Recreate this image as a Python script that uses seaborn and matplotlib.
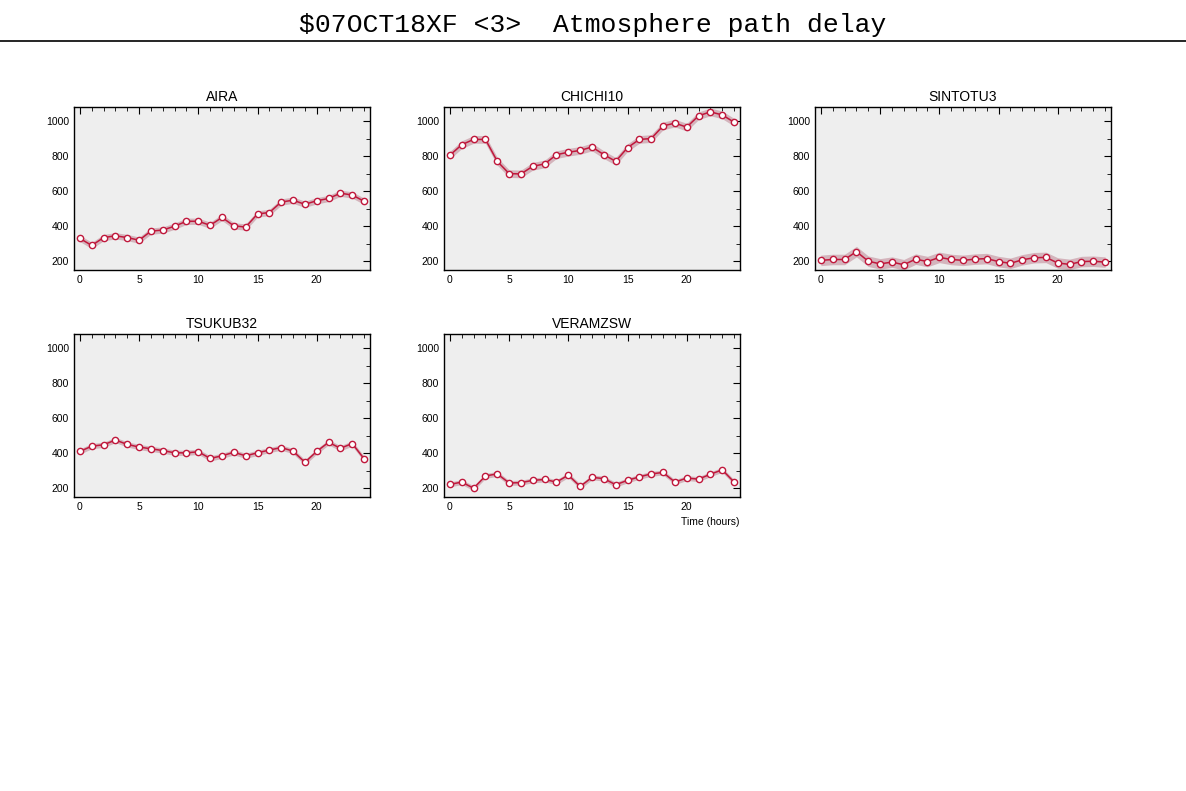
import matplotlib
matplotlib.use('Agg')
import matplotlib.pyplot as plt
import seaborn as sns
import numpy as np
import pandas as pd
from matplotlib.ticker import MultipleLocator

hours = list(range(25))
aira = [330, 290, 335, 345, 335, 320, 372, 378, 400, 428, 428, 405, 450, 402, 395,
        470, 478, 538, 548, 525, 545, 558, 588, 578, 542]
chichi10 = [805, 865, 895, 895, 770, 700, 698, 742, 755, 808, 822, 832, 852, 808, 770,
            848, 895, 900, 972, 988, 965, 1030, 1052, 1035, 993]
sintotu3 = [205, 210, 210, 255, 200, 185, 195, 180, 212, 198, 222, 210, 205, 212, 215,
            198, 188, 208, 220, 222, 190, 182, 198, 200, 195]
tsukub32 = [410, 440, 448, 475, 450, 435, 425, 415, 402, 402, 408, 370, 385, 405, 385,
            402, 418, 432, 412, 348, 410, 462, 428, 455, 368]
veramzsw = [222, 235, 200, 270, 282, 230, 232, 245, 250, 235, 275, 210, 262, 255, 220,
            245, 265, 282, 290, 235, 258, 252, 280, 305, 235]
errs = [18, 22, 30, 15, 14]

stations = ['AIRA', 'CHICHI10', 'SINTOTU3', 'TSUKUB32', 'VERAMZSW']
series = [aira, chichi10, sintotu3, tsukub32, veramzsw]

sns.set_style('white')
plt.rcParams['font.family'] = ['Liberation Sans', 'DejaVu Sans']

W, H = 1186, 791
fig = plt.figure(figsize=(W / 100, H / 100), dpi=100)
fig.text(0.5, 1 - 25 / H, '$07OCT18XF <3>  Atmosphere path delay', ha='center', va='center',
         fontsize=19, family='Liberation Mono', color='black')
fig.add_artist(plt.Line2D([0, 1], [1 - 41 / H, 1 - 41 / H], color='black', lw=1.2))

lefts = [74, 444, 815]
tops = [107, 334]
aw, ah = 296, 163
line_col = '#c0183c'
band_col = '#d4b4bc'

for i, (name, vals, e) in enumerate(zip(stations, series, errs)):
    r, c = divmod(i, 3)
    ax = fig.add_axes([lefts[c] / W, 1 - (tops[r] + ah) / H, aw / W, ah / H])
    ax.set_facecolor('#eeeeee')
    df = pd.DataFrame({'hour': hours, 'delay': vals})
    ax.fill_between(df['hour'], df['delay'] - e, df['delay'] + e, color=band_col, lw=0)
    sns.lineplot(data=df, x='hour', y='delay', ax=ax, color=line_col, lw=1.1,
                 marker='o', markersize=4.5, markerfacecolor='white',
                 markeredgecolor=line_col, markeredgewidth=1)
    ax.set_xlim(-0.5, 24.5)
    ax.set_ylim(150, 1080)
    ax.xaxis.set_major_locator(MultipleLocator(5))
    ax.xaxis.set_minor_locator(MultipleLocator(1))
    ax.yaxis.set_major_locator(MultipleLocator(200))
    ax.yaxis.set_minor_locator(MultipleLocator(100))
    ax.tick_params(which='both', direction='in', top=True, right=True, labelsize=7.5,
                   colors='black')
    ax.tick_params(which='major', length=5)
    ax.tick_params(which='minor', length=3)
    for s in ax.spines.values():
        s.set_color('black')
        s.set_linewidth(1)
    ax.set_xlabel('')
    ax.set_ylabel('')
    ax.set_title(name, fontsize=10, pad=4, color='black')
    if name == 'VERAMZSW':
        ax.text(1.0, -0.12, 'Time (hours)', transform=ax.transAxes, ha='right', va='top',
                fontsize=7.5, color='black')

fig.savefig('out.png', dpi=100, facecolor='white')
